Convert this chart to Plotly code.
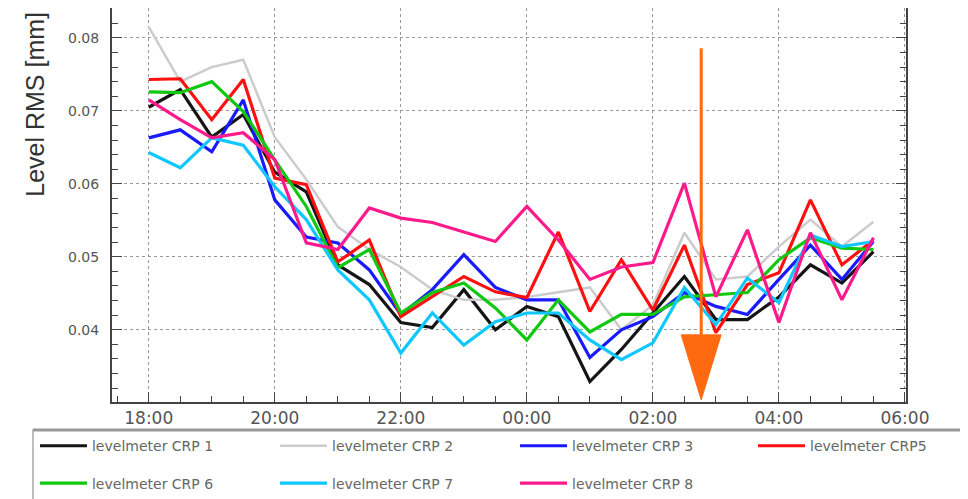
import plotly.graph_objects as go

# sample times, every 30 min through the night
times = [
    "2021-03-01 18:00", "2021-03-01 18:30", "2021-03-01 19:00", "2021-03-01 19:30",
    "2021-03-01 20:00", "2021-03-01 20:30", "2021-03-01 21:00", "2021-03-01 21:30",
    "2021-03-01 22:00", "2021-03-01 22:30", "2021-03-01 23:00", "2021-03-01 23:30",
    "2021-03-02 00:00", "2021-03-02 00:30", "2021-03-02 01:00", "2021-03-02 01:30",
    "2021-03-02 02:00", "2021-03-02 02:30", "2021-03-02 03:00", "2021-03-02 03:30",
    "2021-03-02 04:00", "2021-03-02 04:30", "2021-03-02 05:00", "2021-03-02 05:30",
]

crp1 = [0.0705, 0.0729, 0.0664, 0.0695, 0.0616, 0.0589, 0.0489, 0.0462,
        0.0410, 0.0403, 0.0455, 0.0400, 0.0432, 0.0418, 0.0329, 0.0373,
        0.0423, 0.0473, 0.0414, 0.0414, 0.0445, 0.0489, 0.0464, 0.0507]
crp2 = [0.0815, 0.0740, 0.0760, 0.0770, 0.0664, 0.0606, 0.0541, 0.0510,
        0.0486, 0.0455, 0.0441, 0.0441, 0.0445, 0.0452, 0.0458, 0.0400,
        0.0434, 0.0533, 0.0469, 0.0473, 0.0514, 0.0551, 0.0514, 0.0548]
crp3 = [0.0663, 0.0674, 0.0644, 0.0715, 0.0578, 0.0527, 0.0519, 0.0482,
        0.0421, 0.0455, 0.0503, 0.0458, 0.0441, 0.0441, 0.0362, 0.0400,
        0.0418, 0.0451, 0.0432, 0.0421, 0.0469, 0.0516, 0.0469, 0.0521]
crp5 = [0.0743, 0.0744, 0.0688, 0.0743, 0.0608, 0.0599, 0.0493, 0.0523,
        0.0418, 0.0445, 0.0473, 0.0452, 0.0444, 0.0534, 0.0425, 0.0496,
        0.0427, 0.0516, 0.0396, 0.0462, 0.0478, 0.0578, 0.0489, 0.0523]
crp6 = [0.0726, 0.0725, 0.0740, 0.0699, 0.0633, 0.0569, 0.0485, 0.0510,
        0.0423, 0.0451, 0.0464, 0.0430, 0.0386, 0.0441, 0.0397, 0.0421,
        0.0421, 0.0445, 0.0448, 0.0451, 0.0496, 0.0526, 0.0512, 0.0510]
crp7 = [0.0643, 0.0622, 0.0663, 0.0653, 0.0596, 0.0551, 0.0482, 0.0441,
        0.0368, 0.0423, 0.0379, 0.0411, 0.0423, 0.0423, 0.0386, 0.0359,
        0.0382, 0.0458, 0.0407, 0.0471, 0.0437, 0.0530, 0.0514, 0.0521]
crp8 = [0.0715, 0.0688, 0.0663, 0.0670, 0.0633, 0.0519, 0.0510, 0.0567,
        0.0553, 0.0547, 0.0534, 0.0521, 0.0569, 0.0523, 0.0469, 0.0486,
        0.0492, 0.0601, 0.0445, 0.0537, 0.0410, 0.0533, 0.0441, 0.0526]

# orange marker arrow (time, top level, head start, head tip, head half-width)
arrow_time = "2021-03-02 02:46"
arrow_left = "2021-03-02 02:27"
arrow_right = "2021-03-02 03:05"
arrow_top = 0.0786
arrow_head = 0.0393
arrow_tip = 0.0304

series = [
    ("levelmeter CRP 1", crp1, "#151515", 3.2),
    ("levelmeter CRP 2", crp2, "#cccccc", 2.5),
    ("levelmeter CRP 3", crp3, "#1a1aff", 3.2),
    ("levelmeter CRP5", crp5, "#ff1010", 3.2),
    ("levelmeter CRP 6", crp6, "#10c810", 3.2),
    ("levelmeter CRP 7", crp7, "#10c8ff", 3.2),
    ("levelmeter CRP 8", crp8, "#ff1a8c", 3.2),
]

# one legend box per entry so the 4-column grid can be placed exactly
legend_spots = [
    (-0.0970, -0.1120), (0.2053, -0.1120), (0.5076, -0.1120), (0.8073, -0.1120),
    (-0.0970, -0.2070), (0.2053, -0.2070), (0.5076, -0.2070),
]

fig = go.Figure()
for k, (name, vals, color, width) in enumerate(series):
    fig.add_trace(go.Scatter(
        x=times, y=vals, mode="lines", name=name,
        line=dict(color=color, width=width),
        legend="legend" if k == 0 else "legend%d" % (k + 1),
    ))

# arrow: shaft + head
fig.add_trace(go.Scatter(
    x=[arrow_time, arrow_time], y=[arrow_top, arrow_head],
    mode="lines", line=dict(color="#ff6a10", width=3),
    showlegend=False, hoverinfo="skip",
))
fig.add_trace(go.Scatter(
    x=[arrow_left, arrow_right, arrow_time, arrow_left],
    y=[arrow_head, arrow_head, arrow_tip, arrow_head],
    mode="lines", fill="toself", fillcolor="#ff6a10",
    line=dict(color="#ff6a10", width=1),
    showlegend=False, hoverinfo="skip",
))

xtick_font = dict(family="DejaVu Sans", size=17, color="#555555")
ytick_font = dict(family="DejaVu Sans", size=14, color="#555555")
legend_font = dict(family="DejaVu Sans", size=14, color="#666666")

legends = {}
for k, (lx, ly) in enumerate(legend_spots):
    key = "legend" if k == 0 else "legend%d" % (k + 1)
    legends[key] = dict(
        orientation="h", xanchor="left", yanchor="middle", x=lx, y=ly,
        itemwidth=47, bgcolor="rgba(0,0,0,0)", font=legend_font,
    )

# page body has an 8px margin, so the figure is 8px smaller than the window
fig.update_layout(
    width=960, height=491,
    margin=dict(l=104, r=62, t=0, b=97, autoexpand=False),
    paper_bgcolor="white", plot_bgcolor="white",
    xaxis=dict(
        type="date",
        range=["2021-03-01 17:25", "2021-03-02 06:01"],
        tick0="2021-03-01 18:00", dtick=7200000,
        tickformat="%H:%M", tickfont=xtick_font,
        ticks="inside", ticklen=10, tickcolor="#444",
        minor=dict(dtick=1800000, ticks="inside", ticklen=6, tickcolor="#444", showgrid=False),
        showgrid=True, gridcolor="#999999", griddash="dot", gridwidth=1,
        showline=True, linecolor="#444", linewidth=2, mirror=True,
        zeroline=False,
    ),
    yaxis=dict(
        range=[0.0301, 0.0841],
        dtick=0.01, tickformat=".2f", tickfont=ytick_font,
        ticklabelstandoff=8,
        ticks="inside", ticklen=10, tickcolor="#444",
        minor=dict(dtick=0.002, ticks="inside", ticklen=6, tickcolor="#444", showgrid=False),
        showgrid=True, gridcolor="#999999", griddash="dot", gridwidth=1,
        showline=True, linecolor="#444", linewidth=2, mirror="ticks",
        zeroline=False,
    ),
    shapes=[
        dict(type="rect", xref="paper", yref="paper",
             x0=-0.0995, x1=1.2, y0=-0.0711, y1=-0.35,
             line=dict(color="#aaaaaa", width=1.5), layer="below"),
        dict(type="line", xref="paper", yref="paper",
             x0=-0.0995, x1=1.2, y0=-0.0711, y1=-0.0711,
             line=dict(color="#999999", width=3)),
    ],
    annotations=[
        dict(text="Level RMS [mm]", xref="paper", yref="paper",
             x=-0.097, y=0.757, textangle=-90, showarrow=False,
             xanchor="center", yanchor="middle",
             font=dict(family="Liberation Sans, Arial", size=25, color="#333333")),
    ],
    **legends,
)

fig.write_html("out.html")
